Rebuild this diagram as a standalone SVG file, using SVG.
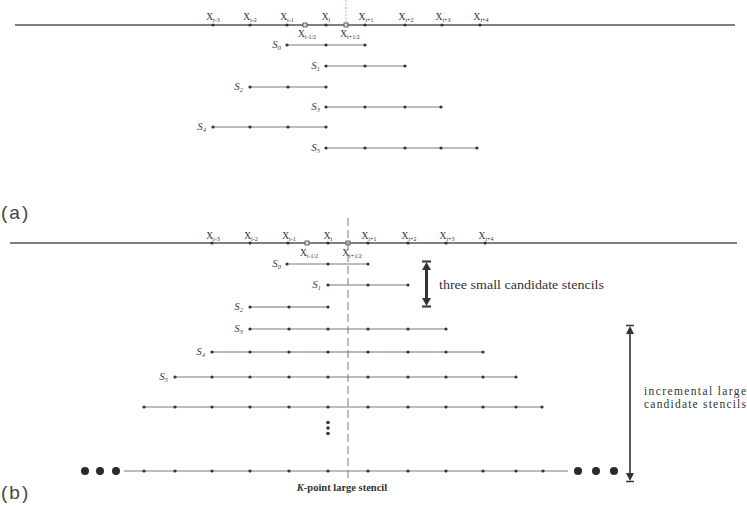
<svg xmlns="http://www.w3.org/2000/svg" width="747" height="514" viewBox="0 0 747 514">
<style>
.axis{stroke:#555;stroke-width:1.3;fill:none}
.st{stroke:#7a7a7a;stroke-width:1.2;fill:none}
.stl{stroke:#a8a8a8;stroke-width:1.4;fill:none}
.stp{stroke:#6c6c8c;stroke-width:1.2;fill:none}
.d{fill:#333}
.bd{fill:#2a2a2a}
.sq{fill:#ddd;stroke:#444;stroke-width:0.8}
.xl{font-family:"Liberation Serif",serif;font-size:9.5px;fill:#333;text-anchor:middle}
.sl{font-family:"Liberation Serif",serif;font-size:11px;font-style:italic;fill:#444;text-anchor:end}
.sub{font-size:6px}
.ssub{font-size:6.5px}
.lab{font-family:"Liberation Sans",sans-serif;font-size:19px;fill:#444;letter-spacing:2px}
.ann{font-family:"Liberation Serif",serif;fill:#333}
.dash{stroke:#777;stroke-width:1;stroke-dasharray:8,4;fill:none}
.red{stroke:#e8a0b0;stroke-width:1;stroke-dasharray:2,1.5;fill:none}
.arr{stroke:#333;fill:none}
.ah{fill:#333}
</style>

<!-- ===== Panel (a) ===== -->
<g id="a-axis">
<line class="red" x1="346" y1="0" x2="346" y2="25"/>
<line class="axis" x1="15" y1="25" x2="735" y2="25"/>
<circle class="d" cx="213" cy="25" r="1.6"/><circle class="d" cx="250" cy="25" r="1.6"/><circle class="d" cx="287" cy="25" r="1.6"/><circle class="d" cx="326" cy="25" r="1.6"/><circle class="d" cx="365" cy="25" r="1.6"/><circle class="d" cx="405" cy="25" r="1.6"/><circle class="d" cx="442" cy="25" r="1.6"/><circle class="d" cx="480" cy="25" r="1.6"/>
<rect class="sq" x="303" y="23" width="4" height="4"/><rect class="sq" x="344" y="23" width="4" height="4"/>
<text class="xl" x="213" y="20">X<tspan class="sub" dy="2">i-3</tspan></text>
<text class="xl" x="250" y="20">X<tspan class="sub" dy="2">i-2</tspan></text>
<text class="xl" x="287" y="20">X<tspan class="sub" dy="2">i-1</tspan></text>
<text class="xl" x="326" y="20">X<tspan class="sub" dy="2">i</tspan></text>
<text class="xl" x="366" y="20">X<tspan class="sub" dy="2">i+1</tspan></text>
<text class="xl" x="406" y="20">X<tspan class="sub" dy="2">i+2</tspan></text>
<text class="xl" x="443" y="20">X<tspan class="sub" dy="2">i+3</tspan></text>
<text class="xl" x="481" y="20">X<tspan class="sub" dy="2">i+4</tspan></text>
<text class="xl" x="307" y="37">X<tspan class="sub" dy="2">i-1/2</tspan></text>
<text class="xl" x="350" y="37">X<tspan class="sub" dy="2">i+1/2</tspan></text>
</g>
<g id="a-S0">
<line class="stl" x1="287" y1="45" x2="365" y2="45"/>
<circle class="d" cx="287" cy="45" r="1.6"/><circle class="d" cx="326" cy="45" r="1.6"/><circle class="d" cx="365" cy="45" r="1.6"/>
<text class="sl" x="281" y="48">S<tspan class="ssub" dy="2">0</tspan></text>
</g>
<g id="a-S1">
<line class="st" x1="326" y1="66" x2="405" y2="66"/>
<circle class="d" cx="326" cy="66" r="1.6"/><circle class="d" cx="365" cy="66" r="1.6"/><circle class="d" cx="405" cy="66" r="1.6"/>
<text class="sl" x="320" y="69">S<tspan class="ssub" dy="2">1</tspan></text>
</g>
<g id="a-S2">
<line class="st" x1="250" y1="87" x2="326" y2="87"/>
<circle class="d" cx="250" cy="87" r="1.6"/><circle class="d" cx="288" cy="87" r="1.6"/><circle class="d" cx="326" cy="87" r="1.6"/>
<text class="sl" x="243" y="90">S<tspan class="ssub" dy="2">2</tspan></text>
</g>
<g id="a-S3">
<line class="stl" x1="326" y1="107" x2="441" y2="107"/>
<circle class="d" cx="326" cy="107" r="1.6"/><circle class="d" cx="365" cy="107" r="1.6"/><circle class="d" cx="405" cy="107" r="1.6"/><circle class="d" cx="441" cy="107" r="1.6"/>
<text class="sl" x="320" y="110">S<tspan class="ssub" dy="2">3</tspan></text>
</g>
<g id="a-S4">
<line class="st" x1="213" y1="127" x2="326" y2="127"/>
<circle class="d" cx="213" cy="127" r="1.6"/><circle class="d" cx="250" cy="127" r="1.6"/><circle class="d" cx="288" cy="127" r="1.6"/><circle class="d" cx="326" cy="127" r="1.6"/>
<text class="sl" x="206" y="130">S<tspan class="ssub" dy="2">4</tspan></text>
</g>
<g id="a-S5">
<line class="stl" x1="326" y1="148" x2="477" y2="148"/>
<circle class="d" cx="326" cy="148" r="1.6"/><circle class="d" cx="365" cy="148" r="1.6"/><circle class="d" cx="405" cy="148" r="1.6"/><circle class="d" cx="441" cy="148" r="1.6"/><circle class="d" cx="477" cy="148" r="1.6"/>
<text class="sl" x="320" y="151">S<tspan class="ssub" dy="2">5</tspan></text>
</g>
<g id="label-a"><text class="lab" x="1" y="219">(a)</text></g>

<!-- ===== Panel (b) ===== -->
<g id="b-axis">
<line class="axis" x1="10" y1="243" x2="737" y2="243"/>
<circle class="d" cx="212" cy="243" r="1.6"/><circle class="d" cx="250" cy="243" r="1.6"/><circle class="d" cx="288" cy="243" r="1.6"/><circle class="d" cx="328" cy="243" r="1.6"/><circle class="d" cx="368" cy="243" r="1.6"/><circle class="d" cx="408" cy="243" r="1.6"/><circle class="d" cx="446" cy="243" r="1.6"/><circle class="d" cx="485" cy="243" r="1.6"/>
<rect class="sq" x="305" y="241" width="4" height="4"/><rect class="sq" x="346" y="241" width="4" height="4"/>
<text class="xl" x="213" y="239">X<tspan class="sub" dy="2">i-3</tspan></text>
<text class="xl" x="251" y="239">X<tspan class="sub" dy="2">i-2</tspan></text>
<text class="xl" x="289" y="239">X<tspan class="sub" dy="2">i-1</tspan></text>
<text class="xl" x="328" y="239">X<tspan class="sub" dy="2">i</tspan></text>
<text class="xl" x="369" y="239">X<tspan class="sub" dy="2">i+1</tspan></text>
<text class="xl" x="409" y="239">X<tspan class="sub" dy="2">i+2</tspan></text>
<text class="xl" x="447" y="239">X<tspan class="sub" dy="2">i+3</tspan></text>
<text class="xl" x="486" y="239">X<tspan class="sub" dy="2">i+4</tspan></text>
<text class="xl" x="309" y="256">X<tspan class="sub" dy="2">i-1/2</tspan></text>
<text class="xl" x="352" y="256">X<tspan class="sub" dy="2">i+1/2</tspan></text>
</g>
<g id="b-centerline"><line class="dash" x1="348" y1="218" x2="348" y2="480"/></g>
<g id="b-S0">
<line class="st" x1="287" y1="264" x2="368" y2="264"/>
<circle class="d" cx="287" cy="264" r="1.6"/><circle class="d" cx="328" cy="264" r="1.6"/><circle class="d" cx="368" cy="264" r="1.6"/>
<text class="sl" x="281" y="267">S<tspan class="ssub" dy="2">0</tspan></text>
</g>
<g id="b-S1">
<line class="stl" x1="328" y1="285" x2="408" y2="285"/>
<circle class="d" cx="328" cy="285" r="1.6"/><circle class="d" cx="368" cy="285" r="1.6"/><circle class="d" cx="408" cy="285" r="1.6"/>
<text class="sl" x="321" y="288">S<tspan class="ssub" dy="2">1</tspan></text>
</g>
<g id="b-S2">
<line class="stp" x1="250" y1="307" x2="328" y2="307"/>
<circle class="d" cx="250" cy="307" r="1.6"/><circle class="d" cx="289" cy="307" r="1.6"/><circle class="d" cx="328" cy="307" r="1.6"/>
<text class="sl" x="243" y="310">S<tspan class="ssub" dy="2">2</tspan></text>
</g>
<g id="b-S3">
<line class="st" x1="250" y1="329" x2="446" y2="329"/>
<circle class="d" cx="250" cy="329" r="1.6"/><circle class="d" cx="289" cy="329" r="1.6"/><circle class="d" cx="328" cy="329" r="1.6"/><circle class="d" cx="368" cy="329" r="1.6"/><circle class="d" cx="408" cy="329" r="1.6"/><circle class="d" cx="446" cy="329" r="1.6"/>
<text class="sl" x="243" y="332">S<tspan class="ssub" dy="2">3</tspan></text>
</g>
<g id="b-S4">
<line class="stp" x1="212" y1="352" x2="483" y2="352"/>
<circle class="d" cx="212" cy="352" r="1.6"/><circle class="d" cx="250" cy="352" r="1.6"/><circle class="d" cx="289" cy="352" r="1.6"/><circle class="d" cx="328" cy="352" r="1.6"/><circle class="d" cx="368" cy="352" r="1.6"/><circle class="d" cx="408" cy="352" r="1.6"/><circle class="d" cx="446" cy="352" r="1.6"/><circle class="d" cx="483" cy="352" r="1.6"/>
<text class="sl" x="205" y="355">S<tspan class="ssub" dy="2">4</tspan></text>
</g>
<g id="b-S5">
<line class="st" x1="175" y1="377" x2="516" y2="377"/>
<circle class="d" cx="175" cy="377" r="1.6"/><circle class="d" cx="212" cy="377" r="1.6"/><circle class="d" cx="250" cy="377" r="1.6"/><circle class="d" cx="289" cy="377" r="1.6"/><circle class="d" cx="328" cy="377" r="1.6"/><circle class="d" cx="368" cy="377" r="1.6"/><circle class="d" cx="408" cy="377" r="1.6"/><circle class="d" cx="446" cy="377" r="1.6"/><circle class="d" cx="483" cy="377" r="1.6"/><circle class="d" cx="516" cy="377" r="1.6"/>
<text class="sl" x="168" y="380">S<tspan class="ssub" dy="2">5</tspan></text>
</g>
<g id="b-S6">
<line class="st" x1="144" y1="407" x2="542" y2="407"/>
<circle class="d" cx="144" cy="407" r="1.6"/><circle class="d" cx="175" cy="407" r="1.6"/><circle class="d" cx="212" cy="407" r="1.6"/><circle class="d" cx="250" cy="407" r="1.6"/><circle class="d" cx="289" cy="407" r="1.6"/><circle class="d" cx="328" cy="407" r="1.6"/><circle class="d" cx="368" cy="407" r="1.6"/><circle class="d" cx="408" cy="407" r="1.6"/><circle class="d" cx="446" cy="407" r="1.6"/><circle class="d" cx="483" cy="407" r="1.6"/><circle class="d" cx="516" cy="407" r="1.6"/><circle class="d" cx="542" cy="407" r="1.6"/>
</g>
<g id="b-vdots">
<circle class="d" cx="328" cy="422.5" r="1.8"/><circle class="d" cx="328" cy="428" r="1.8"/><circle class="d" cx="328" cy="433.5" r="1.8"/>
</g>
<g id="b-K">
<line class="st" x1="124" y1="471" x2="568" y2="471"/>
<circle class="bd" cx="85" cy="471" r="4"/><circle class="bd" cx="100" cy="471" r="4"/><circle class="bd" cx="116" cy="471" r="4"/>
<circle class="bd" cx="578" cy="471" r="4"/><circle class="bd" cx="596" cy="471" r="4"/><circle class="bd" cx="614" cy="471" r="4"/>
<circle class="d" cx="144" cy="471" r="1.6"/><circle class="d" cx="175" cy="471" r="1.6"/><circle class="d" cx="212" cy="471" r="1.6"/><circle class="d" cx="250" cy="471" r="1.6"/><circle class="d" cx="289" cy="471" r="1.6"/><circle class="d" cx="328" cy="471" r="1.6"/><circle class="d" cx="368" cy="471" r="1.6"/><circle class="d" cx="408" cy="471" r="1.6"/><circle class="d" cx="446" cy="471" r="1.6"/><circle class="d" cx="483" cy="471" r="1.6"/><circle class="d" cx="516" cy="471" r="1.6"/><circle class="d" cx="543" cy="471" r="1.6"/>
<text class="ann" x="342" y="491" font-size="10.5" font-weight="bold" text-anchor="middle"><tspan font-style="italic">K</tspan>-point large stencil</text>
</g>

<g id="connectors">
<g id="arrow-small">
<line class="arr" x1="426.5" y1="268" x2="426.5" y2="300" stroke-width="3"/>
<line class="arr" x1="422" y1="261.5" x2="431" y2="261.5" stroke-width="2"/>
<line class="arr" x1="422" y1="306.5" x2="431" y2="306.5" stroke-width="2"/>
<polygon class="ah" points="426.5,262 431,270 422,270"/>
<polygon class="ah" points="426.5,306 431,298 422,298"/>
</g>
<g id="arrow-large">
<line class="arr" x1="630" y1="330" x2="630" y2="477" stroke-width="1.6"/>
<line class="arr" x1="626" y1="325.5" x2="634" y2="325.5" stroke-width="1.5"/>
<line class="arr" x1="626" y1="481.5" x2="634" y2="481.5" stroke-width="1.5"/>
<polygon class="ah" points="630,326 634,334 626,334"/>
<polygon class="ah" points="630,481 634,473 626,473"/>
</g>
</g>
<g id="ann-small"><text class="ann" x="439" y="289" font-size="13.5" textLength="165" lengthAdjust="spacingAndGlyphs">three small candidate stencils</text></g>
<g id="ann-large">
<text class="ann" x="644" y="395" font-size="11.5" textLength="102" lengthAdjust="spacing">incremental large</text>
<text class="ann" x="644" y="408" font-size="11.5" textLength="102" lengthAdjust="spacing">candidate stencils</text>
</g>
<g id="label-b"><text class="lab" x="1" y="499">(b)</text></g>
</svg>
